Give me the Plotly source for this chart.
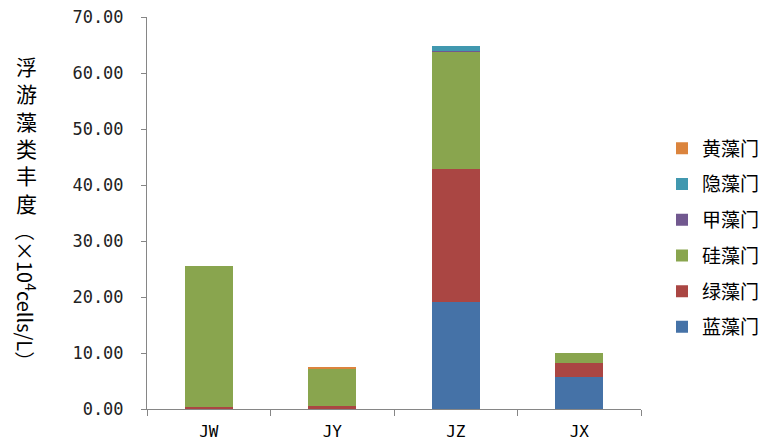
import plotly.graph_objects as go

categories = ["JW", "JY", "JZ", "JX"]
series_names = ["蓝藻门", "绿藻门", "硅藻门", "甲藻门", "隐藻门", "黄藻门"]
lan = [0.0, 0.0, 19.05, 5.65]
lv = [0.4, 0.6, 23.8, 2.5]
gui = [25.2, 6.6, 21.0, 1.85]
jia = [0.0, 0.0, 0.1, 0.0]
yin = [0.0, 0.0, 0.8, 0.0]
huang = [0.0, 0.2, 0.0, 0.0]
y_ticks = [0, 10, 20, 30, 40, 50, 60, 70]

series_values = [lan, lv, gui, jia, yin, huang]
colors = ["#4572A7", "#AA4643", "#89A54E", "#71588F", "#4198AF", "#DB843D"]

fig = go.Figure()
n = len(series_names)
for i, (name, vals, col) in enumerate(zip(series_names, series_values, colors)):
    fig.add_trace(go.Bar(x=categories, y=vals, name=name, marker_color=col,
                         marker_line_width=0, legendgroup=name,
                         legendrank=n - i))

W, H = 766, 448
ml, mr, mt, mb = 147, 125, 17, 39
pw = W - ml - mr
ph = H - mt - mb

fig.update_layout(
    width=W, height=H, barmode="stack", bargap=0.61,
    margin=dict(l=ml, r=mr, t=mt, b=mb, autoexpand=False),
    paper_bgcolor="white", plot_bgcolor="white",
    font=dict(family="Noto Sans CJK SC", color="#000000"),
    showlegend=True,
    legend=dict(traceorder="grouped", tracegroupgap=8,
                x=(662 - ml) / pw, xanchor="left",
                y=(H - mb - 238) / ph, yanchor="middle",
                font=dict(size=19, family="Noto Sans CJK SC"),
                itemwidth=30, bgcolor="rgba(0,0,0,0)"),
    xaxis=dict(showline=True, linecolor="#868686", linewidth=1,
               ticks="outside", tickson="boundaries", ticklen=6, tickcolor="#868686",
               ticklabelstandoff=8,
               tickfont=dict(family="DejaVu Sans Mono", size=16, color="#000"),
               showgrid=False),
    yaxis=dict(range=[0, 70], tickvals=y_ticks, tickformat=".2f",
               showline=True, linecolor="#868686", linewidth=1,
               ticks="outside", ticklen=5, tickcolor="#868686",
               ticklabelstandoff=14,
               tickfont=dict(family="DejaVu Sans Mono", size=17, color="#222"),
               showgrid=False, zeroline=False),
)

fig.add_annotation(text="浮<br>游<br>藻<br>类<br>丰<br>度", xref="paper", yref="paper",
                   x=(26 - ml) / pw, y=(H - mb - 135) / ph,
                   xanchor="center", yanchor="middle", showarrow=False,
                   font=dict(size=21, family="Noto Sans CJK SC", color="#000"))
fig.add_annotation(text="（×10<sup>4</sup>cells/L）", xref="paper", yref="paper",
                   x=(26 - ml) / pw, y=(H - mb - 296) / ph,
                   xanchor="center", yanchor="middle", showarrow=False, textangle=90,
                   font=dict(size=20, family="Noto Sans CJK SC", color="#000"))

fig.write_html("out.html")
